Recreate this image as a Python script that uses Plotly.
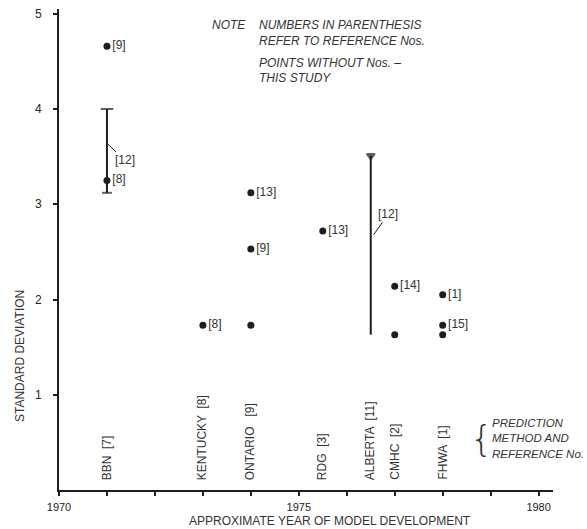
import plotly.graph_objects as go

# ---- data ----
point_years = [1971, 1971, 1973, 1974, 1974, 1974, 1975.5, 1977, 1977, 1978, 1978, 1978]
point_sd = [4.66, 3.25, 1.73, 3.12, 2.53, 1.73, 2.72, 2.14, 1.63, 2.05, 1.73, 1.63]
point_refs = ["[9]", "[8]", "[8]", "[13]", "[9]", "", "[13]", "[14]", "", "[1]", "[15]", ""]

range_years = [1971, 1976.5]
range_low = [3.12, 1.63]
range_high = [4.0, 3.51]
range_refs = ["[12]", "[12]"]

method_years = [1971, 1973, 1974, 1975.5, 1976.5, 1977, 1978]
method_labels = ["BBN  [7]", "KENTUCKY  [8]", "ONTARIO   [9]", "RDG  [3]", "ALBERTA  [11]", "CMHC  [2]", "FHWA  [1]"]

x_tickvals = [1970, 1971, 1972, 1973, 1974, 1975, 1976, 1977, 1978, 1979, 1980]
x_ticktext = ["1970", "", "", "", "", "1975", "", "", "", "", "1980"]
y_tickvals = [1, 2, 3, 4, 5]

FONT = "Liberation Sans, Arial, sans-serif"
TXT = "#333333"
INK = "#1e1e1e"

W, H = 587, 529
PL, PR, PT, PB = 59, 553, 9, 490   # plot area in page pixels

fig = go.Figure()

# range bars
caps = [("line-ew", "line-ew"), ("circle", "triangle-down")]
for i, (xv, lo, hi) in enumerate(zip(range_years, range_low, range_high)):
    fig.add_trace(go.Scatter(
        x=[xv, xv], y=[lo, hi], mode="lines+markers",
        line=dict(color=INK, width=2),
        marker=dict(symbol=list(caps[i]), size=[7, 9] if i == 0 else [0, 7],
                    color=INK, line=dict(color=INK, width=2)),
        showlegend=False, hoverinfo="skip"))

# points
fig.add_trace(go.Scatter(
    x=point_years, y=point_sd, mode="markers+text",
    text=point_refs, textposition="middle right",
    textfont=dict(family=FONT, size=12, color=TXT),
    marker=dict(size=7, color=INK),
    showlegend=False, hoverinfo="skip"))

annotations = []
# leader labels for ranges
leaders = [
    dict(x=1971.0, y=3.64, ax=1971.38, ay=3.46),
    dict(x=1976.56, y=2.68, ax=1976.87, ay=2.90),
]
for ld, txt in zip(leaders, range_refs):
    annotations.append(dict(x=ld["x"], y=ld["y"], ax=ld["ax"], ay=ld["ay"],
                            xref="x", yref="y", axref="x", ayref="y",
                            text=txt, showarrow=True, arrowhead=0, arrowwidth=1,
                            arrowcolor=INK, font=dict(family=FONT, size=12, color=TXT)))

# method labels (vertical)
for xv, lab in zip(method_years, method_labels):
    annotations.append(dict(x=xv, y=0.085, xref="x", yref="y", text=lab,
                            textangle=-90, showarrow=False, xanchor="center",
                            yanchor="bottom", font=dict(family=FONT, size=12, color=TXT)))

# note text
note_font = dict(family=FONT, size=12, color=TXT)
notes = [
    dict(x=1973.15, y=4.88, text="<i>NOTE</i>"),
    dict(x=1974.13, y=4.88, text="<i>NUMBERS IN PARENTHESIS</i>"),
    dict(x=1974.13, y=4.71, text="<i>REFER TO REFERENCE Nos.</i>"),
    dict(x=1974.13, y=4.48, text="<i>POINTS WITHOUT Nos. \u2013</i>"),
    dict(x=1974.13, y=4.33, text="<i>THIS STUDY</i>"),
]
for a in notes:
    a.update(xref="x", yref="y", showarrow=False, font=note_font,
             xanchor="left", yanchor="middle")
annotations += notes


def px(xp, yp):
    # page pixel -> paper coords (relative to plot area)
    return (xp - PL) / (PR - PL), (PB - yp) / (PB - PT)


for (xp, yp), t in zip([(490, 423), (490, 438), (490, 454)],
                       ["<i>PREDICTION</i>", "<i>METHOD AND</i>", "<i>REFERENCE No.</i>"]):
    xx, yy = px(xp, yp)
    annotations.append(dict(x=xx, y=yy, xref="paper", yref="paper", text=t,
                            showarrow=False, xanchor="left", yanchor="middle",
                            font=dict(family=FONT, size=11.5, color=TXT)))
xx, yy = px(481, 438)
annotations.append(dict(x=xx, y=yy, xref="paper", yref="paper", text="{",
                        showarrow=False, xanchor="center", yanchor="middle",
                        font=dict(family="DejaVu Sans, sans-serif", size=36,
                                  weight=200, color=TXT)))

# axis titles
xx, yy = px(330, 521)
annotations.append(dict(x=xx, y=yy, xref="paper", yref="paper",
                        text="APPROXIMATE YEAR OF MODEL DEVELOPMENT",
                        showarrow=False, xanchor="center", yanchor="middle",
                        font=dict(family=FONT, size=12, color=TXT)))
xx, yy = px(20, 356)
annotations.append(dict(x=xx, y=yy, xref="paper", yref="paper",
                        text="STANDARD DEVIATION", textangle=-90,
                        showarrow=False, xanchor="center", yanchor="middle",
                        font=dict(family=FONT, size=12, color=TXT)))

fig.update_layout(
    width=W, height=H,
    margin=dict(l=PL, r=W - PR, t=PT, b=H - PB, autoexpand=False),
    paper_bgcolor="white", plot_bgcolor="white",
    annotations=annotations,
    showlegend=False,
    xaxis=dict(range=[1970, 1980.3], tickvals=x_tickvals, ticktext=x_ticktext,
               showline=True, linecolor=INK, linewidth=2, ticks="outside",
               ticklen=4, tickcolor=INK, tickwidth=1.5, showgrid=False, zeroline=False,
               ticklabelstandoff=2, ticklabeloverflow="allow",
               tickfont=dict(family=FONT, size=11, color="#222222")),
    yaxis=dict(range=[0, 5.05], tickvals=y_tickvals,
               showline=True, linecolor=INK, linewidth=2, ticks="outside",
               ticklen=4, tickcolor=INK, tickwidth=1.5, showgrid=False, zeroline=False,
               ticklabelstandoff=9, ticklabeloverflow="allow",
               tickfont=dict(family=FONT, size=12, color="#222222")),
)

fig.write_html("out.html", config={"displayModeBar": False},
               post_script="document.body.style.margin='0';")
